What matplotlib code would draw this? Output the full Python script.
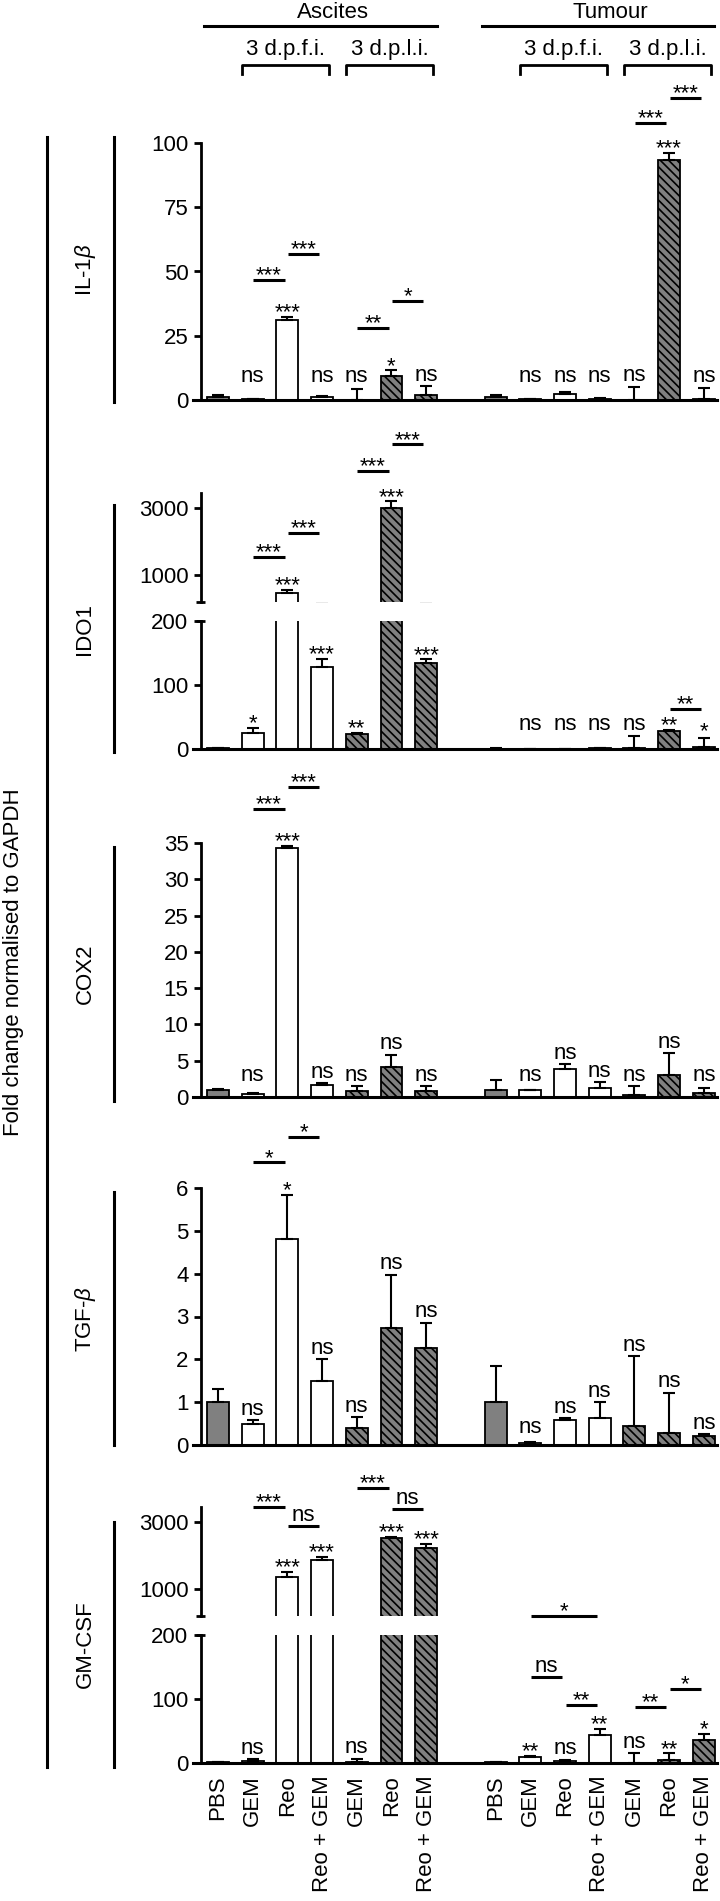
import numpy as np
import matplotlib
matplotlib.use('Agg')
import matplotlib.pyplot as plt
from matplotlib.lines import Line2D
from matplotlib.transforms import blended_transform_factory

plt.rcParams['font.family'] = ['Liberation Sans', 'DejaVu Sans']
plt.rcParams['mathtext.fontset'] = 'custom'
plt.rcParams['mathtext.rm'] = 'Liberation Sans'
plt.rcParams['mathtext.it'] = 'Liberation Sans:italic'
plt.rcParams['hatch.linewidth'] = 1.2
plt.rcParams['font.size'] = 16

# categories: ascites (PBS, 3 d.p.f.i. x3, 3 d.p.l.i. x3), then tumour, same order
treatments = ['PBS', 'GEM', 'Reo', 'Reo + GEM', 'GEM', 'Reo', 'Reo + GEM'] * 2
kinds = ['pbs', 'fi', 'fi', 'fi', 'li', 'li', 'li'] * 2
xpos = np.r_[np.arange(7), np.arange(8, 15)]

il1b_mean = [1.0, 0.3, 31.0, 1.0, 0.1, 9.5, 2.0, 1.0, 0.2, 2.5, 0.3, 0.1, 93.5, 0.2]
il1b_err = [1.0, 0.2, 1.2, 0.6, 4.0, 2.0, 3.4, 0.8, 0.1, 0.7, 0.3, 5.0, 2.5, 4.3]
il1b_sig = ['', 'ns', '***', 'ns', 'ns', '*', 'ns', '', 'ns', 'ns', 'ns', 'ns', '***', 'ns']
il1b_pairs = [(1, 2, 46.7, '***'), (2, 3, 56.8, '***'), (4, 5, 28.0, '**'), (5, 6, 38.5, '*'),
              (12, 13, 107.8, '***'), (13, 14, 117.5, '***')]

ido1_mean = [1.0, 25, 480, 128, 23, 3000, 134, 0.5, 0.2, 0.3, 0.8, 1.0, 28, 3.0]
ido1_err = [0.8, 8, 80, 13, 2, 200, 6, 0.3, 0.1, 0.2, 0.3, 19, 2, 14]
ido1_sig = ['', '*', '***', '***', '**', '***', '***', '', 'ns', 'ns', 'ns', 'ns', '**', '*']
ido1_pairs = [(1, 2, 1536, '***'), (2, 3, 2250, '***'), (4, 5, 4100, '***'), (5, 6, 4900, '***'),
              (13, 14, 62.5, '**')]

cox2_mean = [1.0, 0.4, 34.3, 1.6, 0.8, 4.2, 0.8, 1.0, 0.9, 3.8, 1.3, 0.3, 3.0, 0.5]
cox2_err = [0.1, 0.2, 0.3, 0.3, 0.7, 1.6, 0.7, 1.4, 0.1, 0.7, 0.7, 1.2, 3.0, 0.8]
cox2_sig = ['', 'ns', '***', 'ns', 'ns', 'ns', 'ns', '', 'ns', 'ns', 'ns', 'ns', 'ns', 'ns']
cox2_pairs = [(1, 2, 39.7, '***'), (2, 3, 42.7, '***')]

tgfb_mean = [1.0, 0.5, 4.8, 1.5, 0.4, 2.72, 2.27, 1.0, 0.05, 0.58, 0.62, 0.45, 0.27, 0.22]
tgfb_err = [0.3, 0.08, 1.03, 0.5, 0.25, 1.26, 0.58, 0.85, 0.02, 0.04, 0.38, 1.62, 0.95, 0.03]
tgfb_sig = ['', 'ns', '*', 'ns', 'ns', 'ns', 'ns', '', 'ns', 'ns', 'ns', 'ns', 'ns', 'ns']
tgfb_pairs = [(1, 2, 6.6, '*'), (2, 3, 7.2, '*')]

gmcsf_mean = [1.0, 3.0, 1370, 1880, 1.0, 2520, 2240, 1.0, 9.0, 3.0, 44, 0.5, 5.0, 36]
gmcsf_err = [0.3, 2.5, 150, 90, 6.0, 40, 110, 0.2, 1.5, 1.0, 9, 15, 10, 9]
gmcsf_sig = ['', 'ns', '***', '***', 'ns', '***', '***', '', '**', 'ns', '**', 'ns', '**', '*']
gmcsf_pairs = [(1, 2, 3444, '***'), (2, 3, 2877, 'ns'), (4, 5, 4010, '***'), (5, 6, 3384, 'ns'),
               (9, 11, 203, '*'), (9, 10, 134, 'ns'), (10, 11, 91, '**'), (12, 13, 87.5, '**'),
               (13, 14, 115.6, '*')]

W, H = 720, 1901
fig = plt.figure(figsize=(W / 100, H / 100), dpi=100)

XL = (-0.72, 14.38)
YAX = -0.49   # where the y spine sits
BREAK = 200
fills = {'pbs': ('#808080', ''), 'fi': ('white', ''), 'li': ('#808080', '\\\\\\\\')}


def px_axes(top, bottom, left=193, right=717):
    return fig.add_axes([left / W, 1 - bottom / H, (right - left) / W, (bottom - top) / H])


def style_ax(ax, ylim, ticks, bottom=True):
    ax.set_xlim(*XL)
    ax.set_ylim(*ylim)
    ax.set_yticks(ticks)
    ax.spines[['top', 'right']].set_visible(False)
    ax.spines['left'].set_position(('data', YAX))
    ax.spines['left'].set_linewidth(2)
    ax.spines['bottom'].set_linewidth(2.2)
    ax.spines['bottom'].set_visible(bottom)
    ax.tick_params(axis='y', length=5, width=2, pad=4, labelsize=16)
    ax.tick_params(axis='x', length=0)
    ax.set_xticks([])
    ax.patch.set_visible(False)


def draw_bars(ax, mean, err):
    for x, m, k in zip(xpos, mean, kinds):
        fc, h = fills[k]
        ax.bar(x, m, width=0.63, color=fc, edgecolor='k', linewidth=1.3, hatch=h, zorder=2)
    ax.errorbar(xpos, mean, yerr=[np.zeros(len(err)), err], fmt='none', ecolor='k',
                elinewidth=1.5, capsize=4, capthick=1.5, zorder=3)


def pick(axes, y):
    if len(axes) == 1:
        return axes[0]
    return axes[0] if y > BREAK else axes[1]


def sig_text(ax, x, y, s):
    # asterisks sit high in the glyph box, so they need less lift than "ns"
    dy = -1 if set(s) == {'*'} else 4
    ax.annotate(s, (x, y), xytext=(0, dy), textcoords='offset points', ha='center',
                va='baseline', fontsize=16, annotation_clip=False)


def panel(axes, mean, err, sig, pairs, floor):
    for ax in axes:
        draw_bars(ax, mean, err)
    for x, m, e, s in zip(xpos, mean, err, sig):
        if s:
            y = max(m + e, floor)
            sig_text(pick(axes, y), x, y, s)
    for i, j, y, s in pairs:
        ax = pick(axes, y)
        ax.plot([i + 0.02, j - 0.08], [y, y], color='k', lw=2.2, clip_on=False,
                solid_capstyle='butt')
        sig_text(ax, (i + j) / 2 - 0.03, y, s)


def broken(top, mean, err, sig, pairs, floor):
    up = px_axes(top, top + 109)
    low = px_axes(top + 128, top + 256)
    style_ax(up, (BREAK, 3450), [1000, 3000], bottom=False)
    style_ax(low, (0, BREAK), [0, 100, 200])
    for ax in (up, low):
        ax.plot([YAX - 0.13, YAX + 0.13], [BREAK, BREAK], color='k', lw=2, clip_on=False,
                solid_capstyle='butt')
    panel([up, low], mean, err, sig, pairs, floor)
    return up, low


# IL-1b
ax_il = px_axes(143, 400)
style_ax(ax_il, (0, 100), [0, 25, 50, 75, 100])
panel([ax_il], il1b_mean, il1b_err, il1b_sig, il1b_pairs, 4.9)

# IDO1 (broken axis)
broken(493, ido1_mean, ido1_err, ido1_sig, ido1_pairs, 21)

# COX2
ax_cox = px_axes(843, 1097)
style_ax(ax_cox, (0, 35), np.arange(0, 36, 5))
panel([ax_cox], cox2_mean, cox2_err, cox2_sig, cox2_pairs, 1.45)

# TGF-b
ax_tgf = px_axes(1188, 1445)
style_ax(ax_tgf, (0, 6), np.arange(0, 7))
panel([ax_tgf], tgfb_mean, tgfb_err, tgfb_sig, tgfb_pairs, 0.15)

# GM-CSF (broken axis)
gm_up, gm_low = broken(1507, gmcsf_mean, gmcsf_err, gmcsf_sig, gmcsf_pairs, 5.5)
gm_low.set_xticks(xpos, treatments, rotation=90, fontsize=16)
gm_low.tick_params(axis='x', length=0, pad=9)

# left side labels and lines
def vline(x, y0, y1):
    fig.add_artist(Line2D([x / W, x / W], [1 - y0 / H, 1 - y1 / H], color='k', lw=2.2))

vline(47, 137, 1767)
fig.text(14 / W, 1 - 962 / H, 'Fold change normalised to GAPDH', rotation=90,
         ha='center', va='center', fontsize=16)
for name, y0, y1 in [('IL-1$\\beta$', 137, 402), ('IDO1', 505, 752), ('COX2', 847, 1101),
                     ('TGF-$\\beta$', 1192, 1445), ('GM-CSF', 1522, 1767)]:
    vline(114, y0, y1)
    fig.text(85 / W, 1 - (y0 + y1) / 2 / H, name, rotation=90, ha='center', va='center',
             fontsize=16)

# header over the columns
tr = blended_transform_factory(ax_il.transData, fig.transFigure)
for name, first, last in [('Ascites', 0, 6), ('Tumour', 8, 14)]:
    ax_il.plot([first - 0.4, last + 0.3], [1 - 26 / H] * 2, transform=tr, color='k', lw=2.2,
               clip_on=False)
    ax_il.text((first + last) / 2 + 0.3, 1 - 13 / H, name, transform=tr, ha='center',
               va='center', fontsize=16)
for name, first, last in [('3 d.p.f.i.', 1, 3), ('3 d.p.l.i.', 4, 6),
                          ('3 d.p.f.i.', 9, 11), ('3 d.p.l.i.', 12, 14)]:
    a, b = first - 0.3, last + 0.2
    ax_il.plot([a, a, b, b], [1 - 74 / H, 1 - 65 / H, 1 - 65 / H, 1 - 74 / H], transform=tr,
               color='k', lw=2, clip_on=False)
    ax_il.text((a + b) / 2, 1 - 50 / H, name, transform=tr, ha='center', va='center',
               fontsize=16)

fig.savefig('out.png', dpi=100)
